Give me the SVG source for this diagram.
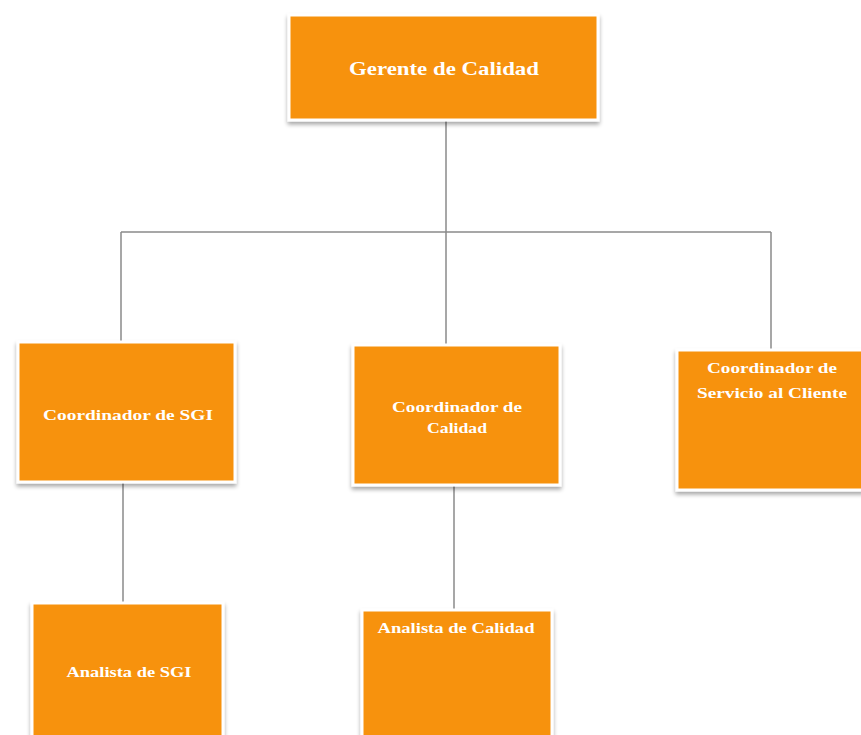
<svg xmlns="http://www.w3.org/2000/svg" width="861" height="735" viewBox="0 0 861 735">
  <style>
    .box { fill: #F7920C; stroke: #ffffff; stroke-width: 3; filter: url(#shadow); }
    .lbl { font-family: "Liberation Serif", "Times New Roman", serif; font-weight: bold; fill: #ffffff; text-anchor: middle; }
    .lbl-lg { font-size: 19px; }
    .lbl-sm { font-size: 15px; }
    .conn line { stroke: #8a8a8a; stroke-width: 1.5; }
  </style>
  <defs>
    <filter id="shadow" x="-10%" y="-10%" width="120%" height="130%">
      <feGaussianBlur in="SourceAlpha" stdDeviation="2"/>
      <feOffset dx="0" dy="3" result="b"/>
      <feComponentTransfer><feFuncA type="linear" slope="0.35"/></feComponentTransfer>
      <feMerge><feMergeNode/><feMergeNode in="SourceGraphic"/></feMerge>
    </filter>
  </defs>
  <rect width="861" height="735" fill="#ffffff"/>

  <g id="connectors" class="conn">
    <line x1="446" y1="120" x2="446" y2="232"/>
    <line x1="121" y1="232" x2="771" y2="232"/>
    <line x1="121" y1="232" x2="121" y2="342"/>
    <line x1="446" y1="232" x2="446" y2="345"/>
    <line x1="771" y1="232" x2="771" y2="350"/>
    <line x1="123" y1="482" x2="123" y2="603"/>
    <line x1="454" y1="485" x2="454" y2="610"/>
  </g>

  <g id="gerente">
    <rect class="box" x="289" y="15" width="309" height="105"/>
    <text class="lbl lbl-lg" x="444" y="75" textLength="190" lengthAdjust="spacingAndGlyphs">Gerente de Calidad</text>
  </g>

  <g id="coord-sgi">
    <rect class="box" x="18" y="342" width="217" height="140"/>
    <text class="lbl lbl-sm" x="128" y="420" textLength="170" lengthAdjust="spacingAndGlyphs">Coordinador de SGI</text>
  </g>

  <g id="coord-calidad">
    <rect class="box" x="353" y="345" width="207" height="140"/>
    <text class="lbl lbl-sm" x="457" y="412" textLength="130" lengthAdjust="spacingAndGlyphs">Coordinador de</text>
    <text class="lbl lbl-sm" x="457" y="433" textLength="60" lengthAdjust="spacingAndGlyphs">Calidad</text>
  </g>

  <g id="coord-servicio">
    <rect class="box" x="677" y="350" width="186" height="140"/>
    <text class="lbl lbl-sm" x="772" y="373" textLength="130" lengthAdjust="spacingAndGlyphs">Coordinador de</text>
    <text class="lbl lbl-sm" x="772" y="398" textLength="150" lengthAdjust="spacingAndGlyphs">Servicio al Cliente</text>
  </g>

  <g id="analista-sgi">
    <rect class="box" x="32" y="603" width="191" height="140"/>
    <text class="lbl lbl-sm" x="129" y="677" textLength="125" lengthAdjust="spacingAndGlyphs">Analista de SGI</text>
  </g>

  <g id="analista-calidad">
    <rect class="box" x="362" y="610" width="190" height="140"/>
    <text class="lbl lbl-sm" x="456" y="633" textLength="157" lengthAdjust="spacingAndGlyphs">Analista de Calidad</text>
  </g>
</svg>
